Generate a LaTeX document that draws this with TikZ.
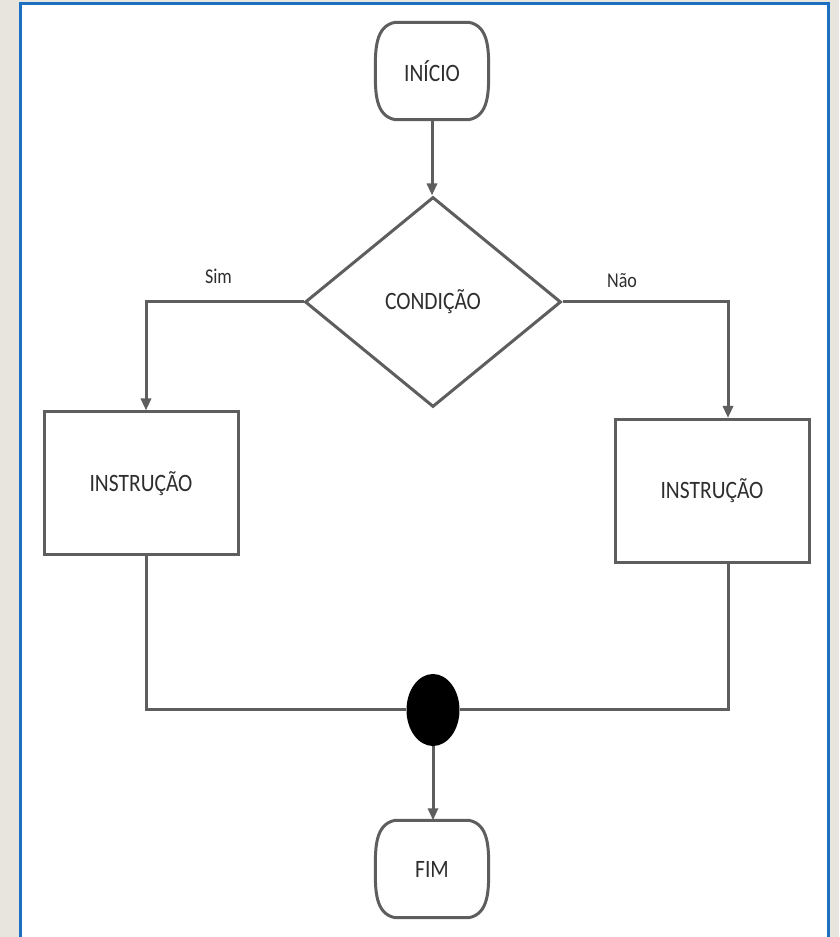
\documentclass[tikz,border=0pt]{standalone}
\usepackage{fontspec}
\setmainfont{Carlito}[FakeStretch=0.86]
\usepackage{xcolor}
\usetikzlibrary{shapes.geometric,arrows.meta}
\definecolor{page}{HTML}{E8E5DF}
\definecolor{frameblue}{HTML}{1C70C2}
\definecolor{linegray}{HTML}{5E5E5E}
\definecolor{textgray}{HTML}{2E2E2E}

\tikzset{
  flowline/.style={draw=linegray, line width=3pt},
  txt/.style={text=textgray, font=\fontsize{25}{28}\selectfont},
  lbl/.style={text=textgray, font=\fontsize{21}{24}\selectfont, inner sep=0pt},
  termbox/.style={txt, minimum width=113pt, minimum height=97pt, inner sep=0pt},
  instr/.style={txt, rectangle, flowline, fill=white, minimum width=194pt, minimum height=143pt},
  decision/.style={txt, diamond, flowline, aspect=1.22, minimum width=256pt, minimum height=210pt, inner sep=0pt},
  junction/.style={ellipse, fill=black, minimum width=53pt, minimum height=72pt, inner sep=0pt},
  >={Triangle[length=12pt,width=10pt]}
}

% barrel outline for start and end
\newcommand{\termshape}[1]{%
  \draw[flowline] ([xshift=20pt]#1.north west) -- ([xshift=-20pt]#1.north east)
    to[out=-10,in=90] (#1.east) to[out=-90,in=10] ([xshift=-20pt]#1.south east)
    -- ([xshift=20pt]#1.south west) to[out=170,in=-90] (#1.west)
    to[out=90,in=190] cycle;}

\begin{document}
\begin{tikzpicture}[x=1pt,y=1pt]
	\useasboundingbox (0,0) rectangle (839,937);
	%page and frame
	\fill[page] (0,0) rectangle (839,937);
	\filldraw[fill=white, draw=frameblue, line width=3pt] (20,-10) rectangle (828,933);
	%nodes
	\node[termbox] (start) at (432,866) {INÍCIO};
	\node[decision] (cond) at (433,635) {CONDIÇÃO};
	\node[instr] (left) at (141,453.5) {INSTRUÇÃO};
	\node[instr] (right) at (712,446) {INSTRUÇÃO};
	\node[junction] (join) at (433,227) {};
	\node[termbox] (stop) at (432,68) {FIM};
	\termshape{start}
	\termshape{stop}
	%connectors
	\draw[flowline,->] (start.south) -- (start.south |- cond.north);
	\draw[flowline,->] (cond.west) -| ([xshift=5pt]left.north) node[lbl, pos=0.27, above=17pt] {Sim};
	\draw[flowline,->] (cond.east) -| ([xshift=16pt]right.north) node[lbl, pos=0.18, above=13pt] {Não};
	\draw[flowline] ([xshift=5pt]left.south) |- (join.west);
	\draw[flowline] ([xshift=16pt]right.south) |- (join.east);
	\draw[flowline,->] (join.south) -- (join.south |- stop.north);
\end{tikzpicture}
\end{document}
